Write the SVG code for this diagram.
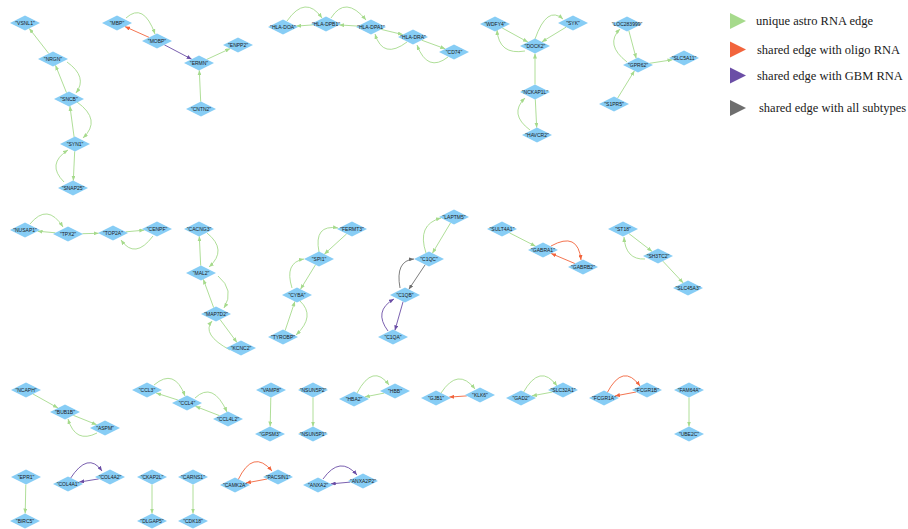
<svg xmlns="http://www.w3.org/2000/svg" xmlns:xlink="http://www.w3.org/1999/xlink" width="908" height="529" viewBox="0 0 908 529">
<style>
  .bg { fill: #ffffff; }
  .nd { fill: #87cdf5; }
  .lb { font-family: "Liberation Sans", Arial, sans-serif; font-size: 5px; fill: #1a1a1a; text-anchor: middle; }
  .e { fill: none; stroke-width: 0.9; }
  .g { stroke: #a6da8c; marker-end: url(#ag); }
  .r { stroke: #f2643c; marker-end: url(#ar); }
  .p { stroke: #6b4ea6; marker-end: url(#ap); }
  .k { stroke: #6e6e6e; marker-end: url(#ak); }
  .lg { font-family: "Liberation Serif", "Times New Roman", serif; font-size: 12.5px; fill: #1a1a1a; }
</style>
<defs>
  <polygon id="dm" points="0,-7.5 15,0 0,7.5 -15,0"/>
  <marker id="ag" markerUnits="userSpaceOnUse" markerWidth="5" markerHeight="4" refX="5" refY="2" orient="auto"><path d="M0,0L5,2L0,4z" fill="#a6da8c"/></marker>
  <marker id="ar" markerUnits="userSpaceOnUse" markerWidth="5" markerHeight="4" refX="5" refY="2" orient="auto"><path d="M0,0L5,2L0,4z" fill="#f2643c"/></marker>
  <marker id="ap" markerUnits="userSpaceOnUse" markerWidth="5" markerHeight="4" refX="5" refY="2" orient="auto"><path d="M0,0L5,2L0,4z" fill="#6b4ea6"/></marker>
  <marker id="ak" markerUnits="userSpaceOnUse" markerWidth="5" markerHeight="4" refX="5" refY="2" orient="auto"><path d="M0,0L5,2L0,4z" fill="#6e6e6e"/></marker>
</defs>
<rect class="bg" x="0" y="0" width="908" height="529"/>

<!-- connectors -->
<g id="edges">
  <!-- VSNL1 / NRGN / SNCB / SYN1 / SNAP25 -->
  <path class="e g" d="M48.8,53.6L29.2,28.4"/>
  <path class="e g" d="M66.5,92.7L55.5,65.3"/>
  <path class="e g" d="M67,62Q88,77 76,93"/>
  <path class="e g" d="M74.1,137L69.9,106"/>
  <path class="e g" d="M77,102Q102,120 83,138"/>
  <path class="e g" d="M74.7,151.3L73.3,180.7"/>
  <path class="e g" d="M64,182Q46,164 68,150"/>
  <!-- MBP / MOBP / ERMN -->
  <path class="e r" d="M149.1,37.4L124.9,26.6"/>
  <path class="e g" d="M126,18Q143.5,2 155,34"/>
  <path class="e p" d="M164.3,44.8L191.7,59.2"/>
  <path class="e g" d="M206.8,59.4L230.2,48.6"/>
  <path class="e g" d="M200.7,101.7L199.3,70.3"/>
  <!-- HLA chain -->
  <path class="e g" d="M312.8,24.9L296.2,26.1"/>
  <path class="e g" d="M287,21Q305.5,-5.5 322,18"/>
  <path class="e g" d="M357.8,26.1L339.2,24.9"/>
  <path class="e g" d="M331,18Q345.5,-5 366,20"/>
  <path class="e g" d="M381.2,29.4L402.8,34.6"/>
  <path class="e g" d="M407,42Q383,60 375,34"/>
  <path class="e g" d="M421.7,40.2L445.3,48.8"/>
  <path class="e g" d="M448,57Q427.5,73 417,45"/>
  <!-- DOCK2 -->
  <path class="e g" d="M502.1,27.9L527.9,42.1"/>
  <path class="e g" d="M525,51Q499,55.5 497,30"/>
  <path class="e g" d="M566.2,27.1L541.8,41.9"/>
  <path class="e g" d="M535,39Q547,5 563,19"/>
  <path class="e g" d="M535,84.5L535,53.5"/>
  <path class="e g" d="M535.3,99.3L536.7,127.7"/>
  <path class="e g" d="M530,130Q508.5,114 525,98"/>
  <!-- GPR62 -->
  <path class="e g" d="M628.8,30.6L636.2,58.4"/>
  <path class="e g" d="M627,62Q604.5,44.5 620,29"/>
  <path class="e g" d="M649.5,63.3L672.5,59.75"/>
  <path class="e g" d="M617.5,98.3L634.5,70.7"/>
  <!-- NUSAP1 / TPX2 / TOP2A / CENPF -->
  <path class="e g" d="M55.4,232.8L37.6,231.2"/>
  <path class="e g" d="M30,224Q47.5,202.5 63,227"/>
  <path class="e g" d="M82.4,233.7L98.6,233.3"/>
  <path class="e g" d="M125.7,231.85L144.3,230.15"/>
  <path class="e g" d="M153,236Q135,260 121,240"/>
  <!-- CACNG3 / MAL2 / MAP7D2 / KCNC2 -->
  <path class="e g" d="M200.7,265.7L199.3,236.3"/>
  <path class="e g" d="M207,233Q228,250 209,267"/>
  <path class="e g" d="M213.7,307.7L203.3,279.3"/>
  <path class="e g" d="M218,276Q235,290 224,308"/>
  <path class="e g" d="M220,319.5L237,342.5"/>
  <path class="e g" d="M230,350Q201,334.5 212,321"/>
  <!-- FERMT3 / SPI1 / CYBA / TYROBP -->
  <path class="e g" d="M346.7,233.8L324.3,254.2"/>
  <path class="e g" d="M319,252Q313.5,224 338,228"/>
  <path class="e g" d="M315.5,264.75L300.5,289.25"/>
  <path class="e g" d="M292,288Q284,262.5 304,259"/>
  <path class="e g" d="M285.1,330.6L294.9,301.4"/>
  <path class="e g" d="M300,301Q316,316 296,335"/>
  <!-- LAPTM5 / C1QC / C1QB / C1QA -->
  <path class="e g" d="M450.6,222.8L432.4,253.2"/>
  <path class="e g" d="M426,253Q416.5,224.5 441,218"/>
  <path class="e k" d="M425.25,264.6L408.75,289.4"/>
  <path class="e k" d="M400,288Q395,260.5 414,259"/>
  <path class="e p" d="M403.1,301.6L394.9,330.4"/>
  <path class="e p" d="M388,331Q373,311 394,299"/>
  <!-- SULT4A1 / GABRA1 / GABRB2 -->
  <path class="e g" d="M509.4,232.8L535.6,246.2"/>
  <path class="e r" d="M551,246Q578,231 581,260"/>
  <path class="e r" d="M574.9,263.55L551.1,253.45"/>
  <!-- ST18 / SH3TC2 / SLC45A3 -->
  <path class="e g" d="M628.9,233.55L652.1,251.45"/>
  <path class="e g" d="M645,259Q625.5,260 624,237"/>
  <path class="e g" d="M662.8,261.1L683.2,282.9"/>
  <!-- NCAPH / BUB1B / ASPM -->
  <path class="e g" d="M33,394L58,408"/>
  <path class="e g" d="M73.3,415.3L96.7,424.7"/>
  <path class="e g" d="M97,433Q75.5,444 68,419"/>
  <!-- CCL3 / CCL4 / CCL4L2 -->
  <path class="e g" d="M154,385Q174.5,367.5 185,396"/>
  <path class="e g" d="M177.9,400L156.1,393"/>
  <path class="e g" d="M195,398Q213,381 227,412"/>
  <path class="e g" d="M219.6,415.7L195.4,406.3"/>
  <!-- pairs -->
  <path class="e g" d="M270.8,397.5L270.2,426.5"/>
  <path class="e g" d="M313,397.5L313,426.5"/>
  <path class="e g" d="M357,393Q373,363 389,385"/>
  <path class="e g" d="M384.2,393.1L364.8,396.9"/>
  <path class="e g" d="M441,393Q458,367 475,389"/>
  <path class="e r" d="M466.8,395.9L449.2,397.1"/>
  <path class="e g" d="M523,393Q540,362.5 557,386"/>
  <path class="e g" d="M552.1,392.1L531.9,395.9"/>
  <path class="e r" d="M607,393Q623,362.5 640,386"/>
  <path class="e r" d="M636.1,392L614.9,396"/>
  <path class="e g" d="M689,397.5L689,426.5"/>
  <path class="e g" d="M25.8,484.5L25.2,513.5"/>
  <path class="e p" d="M70,479Q88,451 102,471"/>
  <path class="e p" d="M98.75,478.9L79.25,482.1"/>
  <path class="e g" d="M152,484.5L152,513.5"/>
  <path class="e g" d="M193,484.5L193,513.5"/>
  <path class="e r" d="M238,480Q253,448.5 272,471"/>
  <path class="e r" d="M267.1,479L245.9,483"/>
  <path class="e p" d="M323,479Q340,455 357,475"/>
  <path class="e p" d="M350.3,482.1L330.7,483.9"/>
</g>

<!-- nodes -->
<g id="nodes">
  <g id="n-VSNL1"><use class="nd" href="#dm" x="25" y="23"/><text class="lb" x="25" y="24.8">"VSNL1"</text></g>
  <g id="n-NRGN"><use class="nd" href="#dm" x="53" y="59"/><text class="lb" x="53" y="60.8">"NRGN"</text></g>
  <g id="n-SNCB"><use class="nd" href="#dm" x="69" y="99"/><text class="lb" x="69" y="100.8">"SNCB"</text></g>
  <g id="n-SYN1"><use class="nd" href="#dm" x="75" y="144"/><text class="lb" x="75" y="145.8">"SYN1"</text></g>
  <g id="n-SNAP25"><use class="nd" href="#dm" x="73" y="188"/><text class="lb" x="73" y="189.8">"SNAP25"</text></g>
  <g id="n-MBP"><use class="nd" href="#dm" x="117" y="23"/><text class="lb" x="117" y="24.8">"MBP"</text></g>
  <g id="n-MOBP"><use class="nd" href="#dm" x="157" y="41"/><text class="lb" x="157" y="42.8">"MOBP"</text></g>
  <g id="n-ERMN"><use class="nd" href="#dm" x="199" y="63"/><text class="lb" x="199" y="64.8">"ERMN"</text></g>
  <g id="n-ENPP2"><use class="nd" href="#dm" x="238" y="45"/><text class="lb" x="238" y="46.8">"ENPP2"</text></g>
  <g id="n-CNTN2"><use class="nd" href="#dm" x="201" y="109"/><text class="lb" x="201" y="110.8">"CNTN2"</text></g>
  <g id="n-HLA-DOA"><use class="nd" href="#dm" x="283" y="27"/><text class="lb" x="283" y="28.8">"HLA-DOA"</text></g>
  <g id="n-HLA-DPB1"><use class="nd" href="#dm" x="326" y="24"/><text class="lb" x="326" y="25.8">"HLA-DPB1"</text></g>
  <g id="n-HLA-DPA1"><use class="nd" href="#dm" x="371" y="27"/><text class="lb" x="371" y="28.8">"HLA-DPA1"</text></g>
  <g id="n-HLA-DRA"><use class="nd" href="#dm" x="413" y="37"/><text class="lb" x="413" y="38.8">"HLA-DRA"</text></g>
  <g id="n-CD74"><use class="nd" href="#dm" x="454" y="52"/><text class="lb" x="454" y="53.8">"CD74"</text></g>
  <g id="n-WDFY4"><use class="nd" href="#dm" x="495" y="24"/><text class="lb" x="495" y="25.8">"WDFY4"</text></g>
  <g id="n-SYK"><use class="nd" href="#dm" x="573" y="23"/><text class="lb" x="573" y="24.8">"SYK"</text></g>
  <g id="n-DOCK2"><use class="nd" href="#dm" x="535" y="46"/><text class="lb" x="535" y="47.8">"DOCK2"</text></g>
  <g id="n-NCKAP1L"><use class="nd" href="#dm" x="535" y="92"/><text class="lb" x="535" y="93.8">"NCKAP1L"</text></g>
  <g id="n-HAVCR2"><use class="nd" href="#dm" x="537" y="135"/><text class="lb" x="537" y="136.8">"HAVCR2"</text></g>
  <g id="n-LOC283999"><use class="nd" href="#dm" x="627" y="24"/><text class="lb" x="627" y="25.8">"LOC283999"</text></g>
  <g id="n-GPR62"><use class="nd" href="#dm" x="638" y="65"/><text class="lb" x="638" y="66.8">"GPR62"</text></g>
  <g id="n-SLC5A11"><use class="nd" href="#dm" x="684" y="58"/><text class="lb" x="684" y="59.8">"SLC5A11"</text></g>
  <g id="n-S1PR5"><use class="nd" href="#dm" x="614" y="104"/><text class="lb" x="614" y="105.8">"S1PR5"</text></g>

  <g id="n-NUSAP1"><use class="nd" href="#dm" x="25" y="230"/><text class="lb" x="25" y="231.8">"NUSAP1"</text></g>
  <g id="n-TPX2"><use class="nd" href="#dm" x="68" y="234"/><text class="lb" x="68" y="235.8">"TPX2"</text></g>
  <g id="n-TOP2A"><use class="nd" href="#dm" x="113" y="233"/><text class="lb" x="113" y="234.8">"TOP2A"</text></g>
  <g id="n-CENPF"><use class="nd" href="#dm" x="157" y="229"/><text class="lb" x="157" y="230.8">"CENPF"</text></g>
  <g id="n-CACNG3"><use class="nd" href="#dm" x="199" y="229"/><text class="lb" x="199" y="230.8">"CACNG3"</text></g>
  <g id="n-MAL2"><use class="nd" href="#dm" x="201" y="273"/><text class="lb" x="201" y="274.8">"MAL2"</text></g>
  <g id="n-MAP7D2"><use class="nd" href="#dm" x="216" y="314"/><text class="lb" x="216" y="315.8">"MAP7D2"</text></g>
  <g id="n-KCNC2"><use class="nd" href="#dm" x="241" y="348"/><text class="lb" x="241" y="349.8">"KCNC2"</text></g>
  <g id="n-FERMT3"><use class="nd" href="#dm" x="352" y="229"/><text class="lb" x="352" y="230.8">"FERMT3"</text></g>
  <g id="n-SPI1"><use class="nd" href="#dm" x="319" y="259"/><text class="lb" x="319" y="260.8">"SPI1"</text></g>
  <g id="n-CYBA"><use class="nd" href="#dm" x="297" y="295"/><text class="lb" x="297" y="296.8">"CYBA"</text></g>
  <g id="n-TYROBP"><use class="nd" href="#dm" x="283" y="337"/><text class="lb" x="283" y="338.8">"TYROBP"</text></g>
  <g id="n-LAPTM5"><use class="nd" href="#dm" x="454" y="217"/><text class="lb" x="454" y="218.8">"LAPTM5"</text></g>
  <g id="n-C1QC"><use class="nd" href="#dm" x="429" y="259"/><text class="lb" x="429" y="260.8">"C1QC"</text></g>
  <g id="n-C1QB"><use class="nd" href="#dm" x="405" y="295"/><text class="lb" x="405" y="296.8">"C1QB"</text></g>
  <g id="n-C1QA"><use class="nd" href="#dm" x="393" y="337"/><text class="lb" x="393" y="338.8">"C1QA"</text></g>
  <g id="n-SULT4A1"><use class="nd" href="#dm" x="502" y="229"/><text class="lb" x="502" y="230.8">"SULT4A1"</text></g>
  <g id="n-GABRA1"><use class="nd" href="#dm" x="543" y="250"/><text class="lb" x="543" y="251.8">"GABRA1"</text></g>
  <g id="n-GABRB2"><use class="nd" href="#dm" x="583" y="267"/><text class="lb" x="583" y="268.8">"GABRB2"</text></g>
  <g id="n-ST18"><use class="nd" href="#dm" x="623" y="229"/><text class="lb" x="623" y="230.8">"ST18"</text></g>
  <g id="n-SH3TC2"><use class="nd" href="#dm" x="658" y="256"/><text class="lb" x="658" y="257.8">"SH3TC2"</text></g>
  <g id="n-SLC45A3"><use class="nd" href="#dm" x="688" y="288"/><text class="lb" x="688" y="289.8">"SLC45A3"</text></g>

  <g id="n-NCAPH"><use class="nd" href="#dm" x="26" y="390"/><text class="lb" x="26" y="391.8">"NCAPH"</text></g>
  <g id="n-BUB1B"><use class="nd" href="#dm" x="65" y="412"/><text class="lb" x="65" y="413.8">"BUB1B"</text></g>
  <g id="n-ASPM"><use class="nd" href="#dm" x="105" y="428"/><text class="lb" x="105" y="429.8">"ASPM"</text></g>
  <g id="n-CCL3"><use class="nd" href="#dm" x="147" y="390"/><text class="lb" x="147" y="391.8">"CCL3"</text></g>
  <g id="n-CCL4"><use class="nd" href="#dm" x="187" y="403"/><text class="lb" x="187" y="404.8">"CCL4"</text></g>
  <g id="n-CCL4L2"><use class="nd" href="#dm" x="228" y="419"/><text class="lb" x="228" y="420.8">"CCL4L2"</text></g>
  <g id="n-VAMP8"><use class="nd" href="#dm" x="271" y="390"/><text class="lb" x="271" y="391.8">"VAMP8"</text></g>
  <g id="n-GPSM3"><use class="nd" href="#dm" x="270" y="434"/><text class="lb" x="270" y="435.8">"GPSM3"</text></g>
  <g id="n-NSUN5P2"><use class="nd" href="#dm" x="313" y="390"/><text class="lb" x="313" y="391.8">"NSUN5P2"</text></g>
  <g id="n-NSUN5P1"><use class="nd" href="#dm" x="313" y="434"/><text class="lb" x="313" y="435.8">"NSUN5P1"</text></g>
  <g id="n-HBA2"><use class="nd" href="#dm" x="354" y="399"/><text class="lb" x="354" y="400.8">"HBA2"</text></g>
  <g id="n-HBB"><use class="nd" href="#dm" x="395" y="391"/><text class="lb" x="395" y="392.8">"HBB"</text></g>
  <g id="n-GJB1"><use class="nd" href="#dm" x="436" y="398"/><text class="lb" x="436" y="399.8">"GJB1"</text></g>
  <g id="n-KLK6"><use class="nd" href="#dm" x="480" y="395"/><text class="lb" x="480" y="396.8">"KLK6"</text></g>
  <g id="n-GAD2"><use class="nd" href="#dm" x="521" y="398"/><text class="lb" x="521" y="399.8">"GAD2"</text></g>
  <g id="n-SLC32A1"><use class="nd" href="#dm" x="563" y="390"/><text class="lb" x="563" y="391.8">"SLC32A1"</text></g>
  <g id="n-FCGR1A"><use class="nd" href="#dm" x="604" y="398"/><text class="lb" x="604" y="399.8">"FCGR1A"</text></g>
  <g id="n-FCGR1B"><use class="nd" href="#dm" x="647" y="390"/><text class="lb" x="647" y="391.8">"FCGR1B"</text></g>
  <g id="n-FAM64A"><use class="nd" href="#dm" x="689" y="390"/><text class="lb" x="689" y="391.8">"FAM64A"</text></g>
  <g id="n-UBE2C"><use class="nd" href="#dm" x="689" y="434"/><text class="lb" x="689" y="435.8">"UBE2C"</text></g>
  <g id="n-EPR1"><use class="nd" href="#dm" x="26" y="477"/><text class="lb" x="26" y="478.8">"EPR1"</text></g>
  <g id="n-BIRC5"><use class="nd" href="#dm" x="25" y="521"/><text class="lb" x="25" y="522.8">"BIRC5"</text></g>
  <g id="n-COL4A1"><use class="nd" href="#dm" x="68" y="484"/><text class="lb" x="68" y="485.8">"COL4A1"</text></g>
  <g id="n-COL4A2"><use class="nd" href="#dm" x="110" y="477"/><text class="lb" x="110" y="478.8">"COL4A2"</text></g>
  <g id="n-CKAP2L"><use class="nd" href="#dm" x="152" y="477"/><text class="lb" x="152" y="478.8">"CKAP2L"</text></g>
  <g id="n-DLGAP5"><use class="nd" href="#dm" x="152" y="521"/><text class="lb" x="152" y="522.8">"DLGAP5"</text></g>
  <g id="n-CARNS1"><use class="nd" href="#dm" x="193" y="477"/><text class="lb" x="193" y="478.8">"CARNS1"</text></g>
  <g id="n-CDK18"><use class="nd" href="#dm" x="193" y="521"/><text class="lb" x="193" y="522.8">"CDK18"</text></g>
  <g id="n-CAMK2A"><use class="nd" href="#dm" x="235" y="485"/><text class="lb" x="235" y="486.8">"CAMK2A"</text></g>
  <g id="n-PACSIN1"><use class="nd" href="#dm" x="278" y="477"/><text class="lb" x="278" y="478.8">"PACSIN1"</text></g>
  <g id="n-ANXA2"><use class="nd" href="#dm" x="318" y="485"/><text class="lb" x="318" y="486.8">"ANXA2"</text></g>
  <g id="n-ANXA2P2"><use class="nd" href="#dm" x="363" y="481"/><text class="lb" x="363" y="482.8">"ANXA2P2"</text></g>
</g>

<!-- legend -->
<g id="legend">
  <polygon points="730,13 730,29 746,21" fill="#a6da8c"/>
  <text class="lg" x="756" y="25">unique astro RNA edge</text>
  <polygon points="730,41.5 730,57.5 746,49.5" fill="#f2643c"/>
  <text class="lg" x="757" y="53.5">shared edge with oligo RNA</text>
  <polygon points="730,67.5 730,83.5 746,75.5" fill="#6b4ea6"/>
  <text class="lg" x="757" y="79.5">shared edge with GBM RNA</text>
  <polygon points="730,100 730,116 746,108" fill="#6e6e6e"/>
  <text class="lg" x="759" y="112">shared edge with all subtypes</text>
</g>
</svg>
